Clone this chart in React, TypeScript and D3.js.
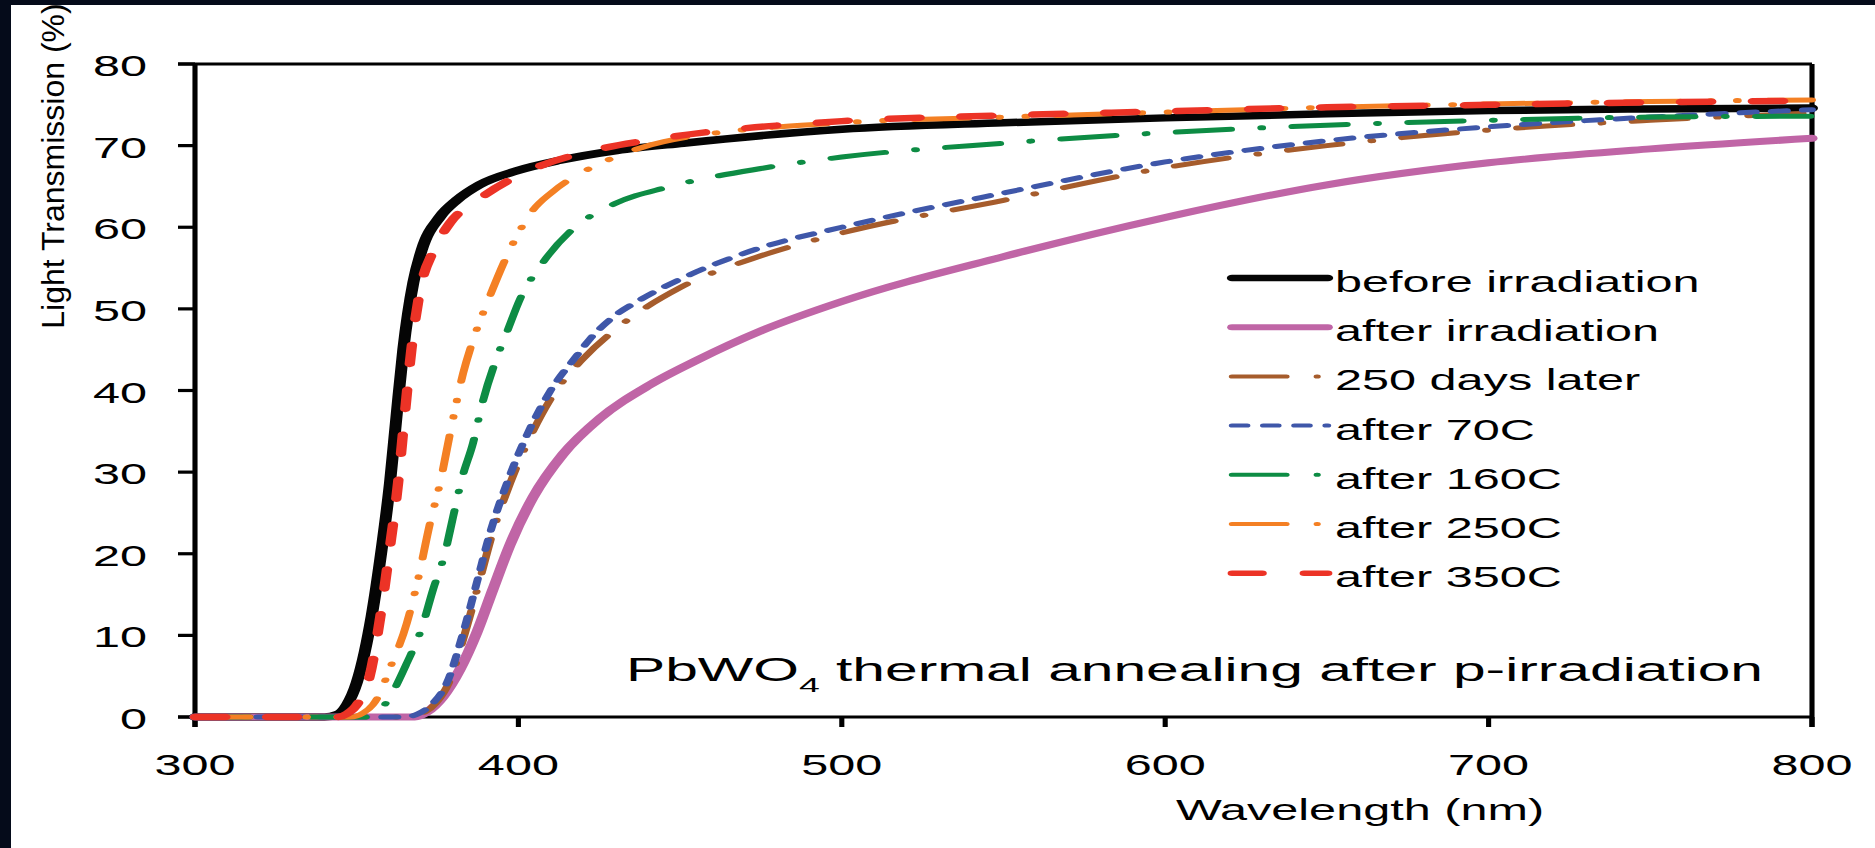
import React from "react";
import * as d3 from "d3";

type Pt = [number, number];

const W = 1875;
const H = 848;
// the whole drawing is stretched horizontally
const SX = 1.6;
const TSX = 1.62;

const xTicks = [300, 400, 500, 600, 700, 800];
const yTicks = [0, 10, 20, 30, 40, 50, 60, 70, 80];

const seriesNames = [
  "before irradiation",
  "after irradiation",
  "250 days later",
  "after 70C",
  "after 160C",
  "after 250C",
  "after 350C",
];

const seriesColors = ["#050505", "#c065a6", "#a65c2c", "#3f57a9", "#0d8c44", "#f48024", "#ec3326"];
const seriesWidths = [7.5, 7, 5, 5, 5, 5, 6.5];
const seriesDashes = ["", "", "34,19,0.5,19", "9.5,10", "34,19,0.5,19", "34,19,0.5,16,0.5,19", "19,26"];

// wavelength (nm), transmission (%)
const beforeIrr: Pt[] = [
  [300, 0], [340, 0], [344, 0.3], [347, 1.5], [350, 4.2], [352.5, 8], [354.6, 12.3], [357.7, 20.5],
  [360.3, 28.7], [362.3, 36.8], [364.4, 45], [367.5, 53.2], [370.1, 57.2], [375.8, 61.3], [380.9, 63.3],
  [388, 65.2], [399.4, 66.9], [412.9, 68.2], [430.4, 69.4], [451, 70.3], [500, 72.0], [550, 72.8],
  [600, 73.4], [650, 73.9], [700, 74.3], [750, 74.5], [800, 74.6],
];
const afterIrr: Pt[] = [
  [300, 0], [368, 0], [371.7, 0.6], [376.7, 2.5], [381.9, 5.8], [387.1, 10.3], [392.1, 15.6],
  [397.4, 21.1], [404.5, 26.9], [413.8, 32.2], [425.2, 36.6], [440.7, 40.7], [455.2, 43.7],
  [475, 47.3], [500, 50.9], [550, 56.4], [600, 61.2], [650, 65.2], [700, 67.9], [750, 69.6], [800, 70.9],
];
const days250: Pt[] = [
  [300, 0], [366, 0], [370, 0.4], [374.5, 1.7], [378.5, 4.2], [383.5, 10.3], [387.8, 16.4], [392, 22.5],
  [397.5, 28.7], [404, 34.6], [411, 39.6], [420, 43.9], [432, 48.1], [450, 52.6], [475, 56.5],
  [500, 59.3], [550, 63.3], [600, 67.3], [650, 70], [700, 71.9], [750, 73.1], [800, 74],
];
const after70: Pt[] = [
  [300, 0], [365, 0], [369, 0.4], [373.6, 1.7], [377.9, 4.2], [382.9, 10.3], [387.1, 16.4],
  [391.2, 22.5], [396.5, 28.7], [402.7, 34.6], [409.8, 39.9], [418.1, 44.3], [422.1, 46.3],
  [429.3, 49], [437.6, 51.1], [450.9, 53.8], [475, 57.5], [500, 60], [550, 64.2], [600, 68],
  [650, 70.6], [700, 72.3], [750, 73.5], [800, 74.4],
];
const after160: Pt[] = [
  [300, 0], [352, 0], [356, 0.4], [359.7, 2.1], [365.5, 6.6], [370.2, 11], [373.6, 15.6],
  [377.3, 20.1], [379.8, 24.5], [382.6, 29.3], [386, 33.6], [388.7, 38.2], [393.4, 44.1],
  [396.5, 47.2], [400.5, 51.2], [407.6, 55.7], [416.9, 59.8], [429.9, 62.9], [446, 64.9], [475, 67.2],
  [500, 68.6], [550, 70.3], [600, 71.6], [650, 72.5], [700, 73.1], [750, 73.5], [800, 73.6],
];
const after250: Pt[] = [
  [300, 0], [348, 0], [352, 0.5], [355, 1.5], [357.2, 2.9], [359.7, 5.4], [365.5, 11.5],
  [368.7, 16.4], [372.7, 23.8], [375.8, 28.7], [378.9, 34.8], [382.9, 42.1], [386, 46.2],
  [390.6, 51], [398.3, 58], [404.5, 62.1], [410.4, 64.3], [423, 67.4], [430.5, 68.7], [445, 70.5],
  [500, 72.8], [550, 73.5], [600, 74.1], [650, 74.7], [700, 75.1], [750, 75.4], [800, 75.6],
];
const after350: Pt[] = [
  [300, 0], [344, 0], [347, 0.4], [350.4, 1.7], [354, 5], [357.3, 12.3], [360, 20], [362.8, 28.7],
  [364.8, 36.8], [366.9, 45], [370, 53], [373.6, 57], [378.8, 60.5], [388, 63.5], [403.6, 67],
  [423, 69.4], [446, 71], [500, 73], [550, 73.7], [600, 74.2], [650, 74.7], [700, 75], [750, 75.3],
  [800, 75.5],
];

const seriesData = [beforeIrr, afterIrr, days250, after70, after160, after250, after350];

const FONT = "'Liberation Sans', Arial, Helvetica, sans-serif";

export default function App() {
  const x = d3.scaleLinear().domain([300, 800]).range([195, 1812]);
  const xl = (v: number) => x(v) / SX;
  const y = d3.scaleLinear().domain([0, 80]).range([717, 64]);

  const line = d3
    .line<Pt>()
    .x((d) => xl(d[0]))
    .y((d) => y(d[1]))
    .curve(d3.curveMonotoneX);

  const [x0, x1] = x.range();
  const [y0, y1] = y.range();
  const axisW = 3.2;

  const legendX1 = 1232;
  const legendX2 = 1328;
  const legendY0 = 278;
  const legendStep = 49.2;

  return (
    <svg
      width={W}
      height={H}
      style={{ position: "absolute", left: 0, top: 0, background: "#ffffff" }}
      fontFamily={FONT}
    >
      <rect x={0} y={0} width={W} height={H} fill="#ffffff" />

      <g transform={`scale(${SX},1)`}>
        {/* frame */}
        <line x1={(x0 - 17) / SX} x2={x1 / SX} y1={y1} y2={y1} stroke="#000" strokeWidth={axisW} />
        <line x1={(x0 - 17) / SX} x2={x1 / SX} y1={y0} y2={y0} stroke="#000" strokeWidth={axisW} />
        <line x1={x0 / SX} x2={x0 / SX} y1={y1} y2={y0 + 10} stroke="#000" strokeWidth={axisW} />
        <line x1={x1 / SX} x2={x1 / SX} y1={y1} y2={y0 + 10} stroke="#000" strokeWidth={axisW} />
        {yTicks.map((t) => (
          <line key={"yt" + t} x1={(x0 - 17) / SX} x2={x0 / SX} y1={y(t)} y2={y(t)} stroke="#000" strokeWidth={axisW} />
        ))}
        {xTicks.map((t) => (
          <line key={"xt" + t} x1={xl(t)} x2={xl(t)} y1={y0} y2={y0 + 10} stroke="#000" strokeWidth={axisW} />
        ))}

        {/* curves */}
        {seriesData.map((data, i) => (
          <path
            key={"s" + i}
            d={line(data) || ""}
            fill="none"
            stroke={seriesColors[i]}
            strokeWidth={seriesWidths[i]}
            strokeDasharray={seriesDashes[i] || undefined}
            strokeLinecap="round"
            strokeLinejoin="round"
          />
        ))}

        {/* legend samples */}
        {seriesNames.map((n, i) => (
          <line
            key={"ll" + i}
            x1={legendX1 / SX}
            x2={legendX2 / SX}
            y1={legendY0 + i * legendStep}
            y2={legendY0 + i * legendStep}
            stroke={seriesColors[i]}
            strokeWidth={seriesWidths[i] - 1}
            strokeDasharray={seriesDashes[i] || undefined}
            strokeLinecap="round"
          />
        ))}
      </g>

      {/* tick labels */}
      {yTicks.map((t) => (
        <text
          key={"yl" + t}
          transform={`translate(147,${y(t) + 12}) scale(${TSX},1)`}
          textAnchor="end"
          fontSize={30}
          fill="#000"
        >
          {t}
        </text>
      ))}
      {xTicks.map((t) => (
        <text
          key={"xl" + t}
          transform={`translate(${x(t)},775) scale(${TSX},1)`}
          textAnchor="middle"
          fontSize={30}
          fill="#000"
        >
          {t}
        </text>
      ))}

      {/* axis titles */}
      <text transform={`translate(1360,820) scale(${TSX},1)`} textAnchor="middle" fontSize={30} fill="#000">
        Wavelength (nm)
      </text>
      <text transform="translate(64,166) rotate(-90)" textAnchor="middle" fontSize={32} fill="#000">
        Light Transmission (%)
      </text>

      {/* legend labels */}
      {seriesNames.map((n, i) => (
        <text
          key={"lt" + i}
          transform={`translate(1335,${legendY0 + i * legendStep + 14}) scale(${TSX},1)`}
          fontSize={30}
          fill="#000"
        >
          {n}
        </text>
      ))}

      {/* annotation */}
      <text transform={`translate(626,681) scale(1.78,1)`} fontSize={33} fill="#000">
        PbWO
        <tspan fontSize={21} dy={11}>4</tspan>
        <tspan dy={-11}> thermal annealing after p-irradiation</tspan>
      </text>

      {/* dark edge */}
      <rect x={0} y={0} width={W} height={5} fill="#050b1a" />
      <rect x={0} y={0} width={11} height={H} fill="#050b1a" />
    </svg>
  );
}
